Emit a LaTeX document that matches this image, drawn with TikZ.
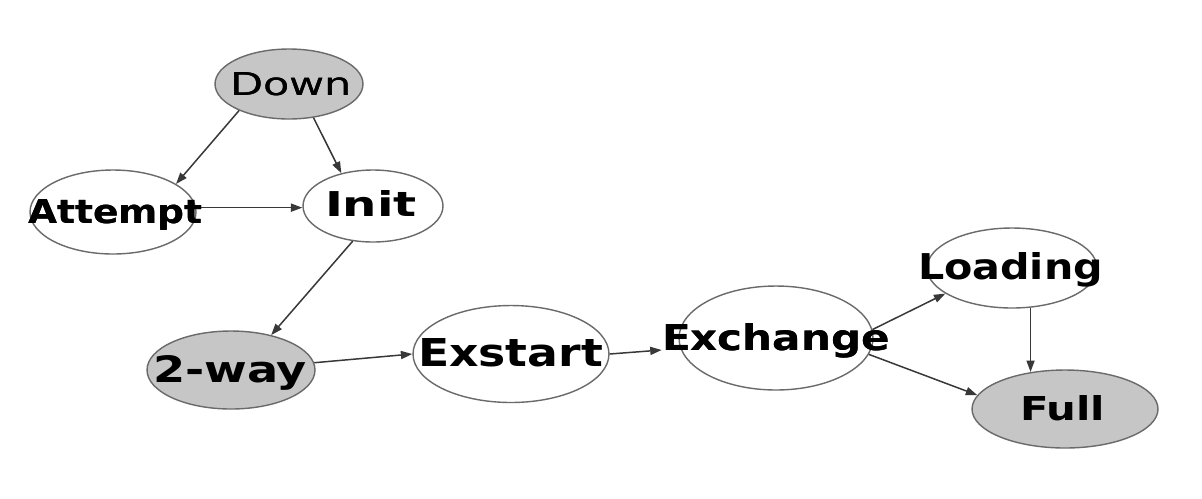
\documentclass[tikz,border=0pt]{standalone}
\usepackage{graphicx}
\usepackage{fontspec}
\setmainfont{DejaVu Sans}
\usetikzlibrary{arrows.meta,shapes.geometric}
\definecolor{stfill}{HTML}{C6C6C6}
\definecolor{stline}{HTML}{6A6A6A}
\definecolor{arr}{HTML}{383838}
\newcommand{\fitlab}[3]{\resizebox{#1}{#2}{#3}}
\tikzset{
  st/.style={ellipse, draw=stline, line width=0.8pt, fill=white, inner sep=0pt},
  gst/.style={st, fill=stfill},
  txt/.style={inner sep=0pt, anchor=base, text=black, font=\bfseries},
  conn/.style={draw=arr, line width=0.85pt, -{Triangle[length=6.5pt,width=4.6pt]}}
}
\begin{document}
\begin{tikzpicture}[x=0.02cm,y=-0.02cm]
\useasboundingbox[fill=white] (0,0) rectangle (1202,498);
% states
\node[gst, minimum width=2.96cm, minimum height=1.40cm] (down) at (289,84) {};
\node[st,  minimum width=3.32cm, minimum height=1.68cm] (attempt) at (113,212) {};
\node[st,  minimum width=2.80cm, minimum height=1.44cm] (init) at (373,206) {};
\node[gst, minimum width=3.36cm, minimum height=1.56cm] (twoway) at (231,370) {};
\node[st,  minimum width=3.92cm, minimum height=1.94cm] (exstart) at (511,354) {};
\node[st,  minimum width=3.88cm, minimum height=2.08cm] (exchange) at (776,338) {};
\node[st,  minimum width=3.40cm, minimum height=1.60cm] (loading) at (1012,268) {};
\node[gst, minimum width=3.72cm, minimum height=1.56cm] (full) at (1065,409) {};
% labels
\node[txt, font=\mdseries] (down-t) at (291,95) {\fitlab{2.44cm}{0.46cm}{Down}};
\node[txt] (attempt-t) at (115.5,223) {\fitlab{3.50cm}{0.48cm}{Attempt}};
\node[txt] (init-t) at (371,216) {\fitlab{1.84cm}{0.52cm}{Init}};
\node[txt] (twoway-t) at (230,382) {\fitlab{3.08cm}{0.54cm}{2-way}};
\node[txt] (exstart-t) at (510.5,366) {\fitlab{3.70cm}{0.56cm}{Exstart}};
\node[txt] (exchange-t) at (776,350) {\fitlab{4.56cm}{0.54cm}{Exchange}};
\node[txt] (loading-t) at (1010.5,279) {\fitlab{3.70cm}{0.54cm}{Loading}};
\node[txt] (full-t) at (1062.5,420) {\fitlab{1.70cm}{0.50cm}{Full}};
% transitions
\draw[conn] (down.208) -- (attempt.24);
\draw[conn] (down.306) -- (init.134);
\draw[conn] (attempt.3) -- (init.west |- attempt.3);
\draw[conn] (init.240) -- (twoway.41);
\draw[conn] (twoway.5) -- (exstart.west);
\draw[conn] (exstart.east) -- (exchange-t.base west);
\draw[conn] (exchange.5) -- (loading.201);
\draw[conn] (exchange.-10) -- (full.171);
\draw[conn] (loading.295) -- (loading.295 |- full.132);
% redraw labels on top of connectors
\node[txt, font=\mdseries] at (down-t.base) {\fitlab{2.44cm}{0.46cm}{Down}};
\node[txt] at (attempt-t.base) {\fitlab{3.50cm}{0.48cm}{Attempt}};
\node[txt] at (exchange-t.base) {\fitlab{4.56cm}{0.54cm}{Exchange}};
\end{tikzpicture}
\end{document}
